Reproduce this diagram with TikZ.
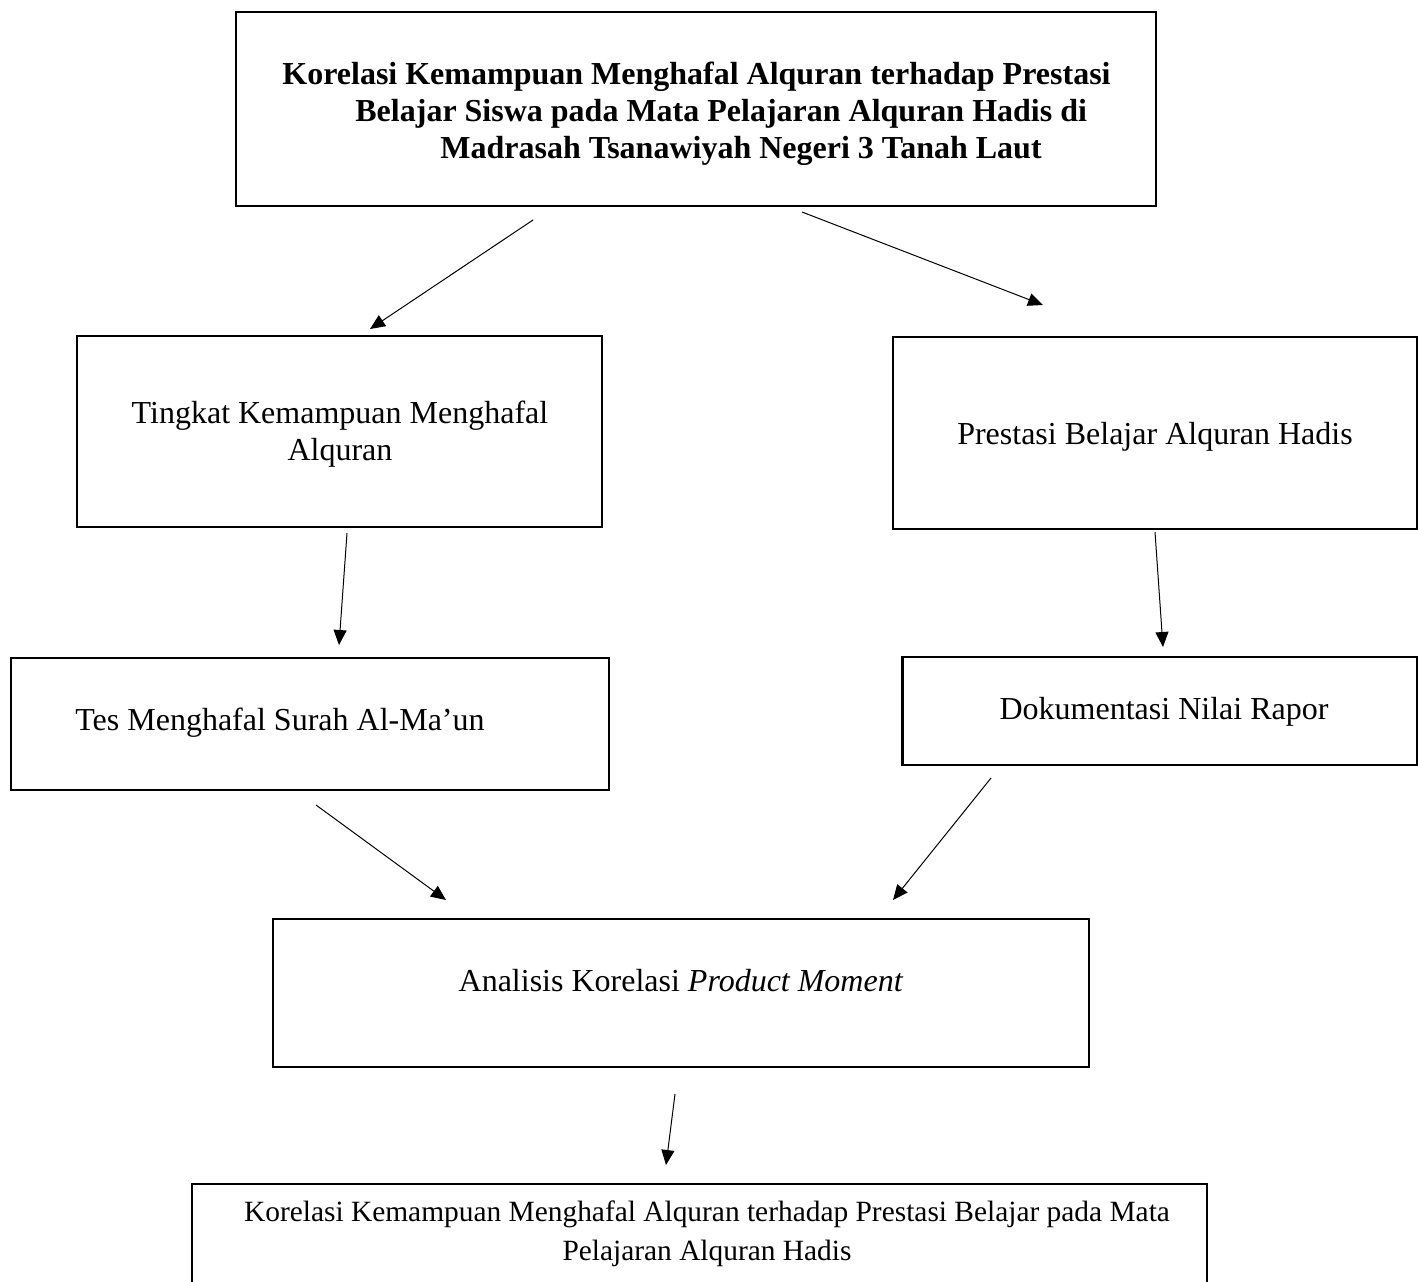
\documentclass[tikz,border=0pt]{standalone}
\usepackage{fontspec}
\setmainfont{Liberation Serif}
\usetikzlibrary{arrows.meta}
\tikzset{
  box/.style={draw=black, line width=1.4pt, fill=none, inner sep=0pt},
  conn/.style={line width=0.5pt, -{Triangle[length=7.5pt,width=6.5pt]}},
  txt/.style={inner sep=0pt, font=\fontsize{16pt}{18.5pt}\selectfont, align=center},
}
\begin{document}
\begin{tikzpicture}[x=0.5pt,y=-0.5pt]
\useasboundingbox (0,0) rectangle (1418,1281);
% boxes
\node[box, minimum width=460pt, minimum height=97pt] (title) at (696,109) {};
\node[box, minimum width=262.5pt, minimum height=95.5pt] (tingkat) at (339.5,431.5) {};
\node[box, minimum width=262pt, minimum height=96pt] (prestasi) at (1155,433) {};
\node[box, minimum width=299pt, minimum height=66pt] (tes) at (310,724) {};
\node[box, minimum width=257.5pt, minimum height=54pt] (dok) at (1159.75,711) {};
\node[box, minimum width=408pt, minimum height=74pt] (anal) at (681,993) {};
\node[box, minimum width=507.5pt, minimum height=58pt] (hasil) at (699.5,1242) {};
% texts
\node[inner sep=0pt, anchor=north west, align=left, font=\bfseries\fontsize{16pt}{18.5pt}\selectfont] (titletext) at (282,62)
 {Korelasi Kemampuan Menghafal Alquran terhadap Prestasi\\
  \hspace*{36.5pt}Belajar Siswa pada Mata Pelajaran Alquran Hadis di\\
  \hspace*{79pt}Madrasah Tsanawiyah Negeri 3 Tanah Laut};
\node[txt] (tingkattext) at (340,434) {Tingkat Kemampuan Menghafal\\Alquran};
\node[txt] (prestasitext) at (1155,437) {Prestasi Belajar Alquran Hadis};
\node[txt, anchor=west] (testext) at (75,723) {Tes Menghafal Surah Al-Ma’un};
\node[txt] (doktext) at (1164,712) {Dokumentasi Nilai Rapor};
\node[txt] (analtext) at (681,981) {Analisis Korelasi \textit{Product Moment}};
\node[txt, anchor=north, font=\fontsize{14.7pt}{19.5pt}\selectfont] (hasiltext) at (707,1200)
 {Korelasi Kemampuan Menghafal Alquran terhadap Prestasi Belajar pada Mata\\Pelajaran Alquran Hadis};
% connector end points
\coordinate (a1s) at (533,220); \coordinate (a1e) at (370,329);
\coordinate (a2s) at (802,212); \coordinate (a2e) at (1043,305);
\coordinate (a3s) at (347,533); \coordinate (a3e) at (339,645);
\coordinate (a4s) at (1155,532); \coordinate (a4e) at (1163,647);
\coordinate (a5s) at (316,805); \coordinate (a5e) at (446,900);
\coordinate (a6s) at (991,778); \coordinate (a6e) at (893,900);
\coordinate (a7s) at (675,1094); \coordinate (a7e) at (666,1165);
\draw[conn] (a1s) -- (a1e);
\draw[conn] (a2s) -- (a2e);
\draw[conn] (a3s) -- (a3e);
\draw[conn] (a4s) -- (a4e);
\draw[conn] (a5s) -- (a5e);
\draw[conn] (a6s) -- (a6e);
\draw[conn] (a7s) -- (a7e);
\end{tikzpicture}
\end{document}
